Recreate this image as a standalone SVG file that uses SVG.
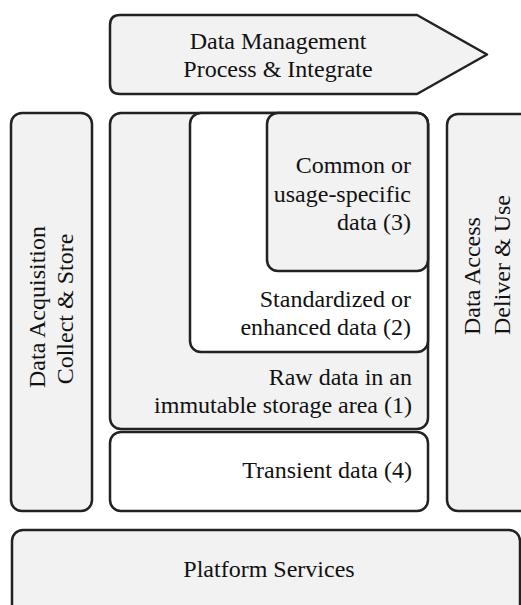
<svg xmlns="http://www.w3.org/2000/svg" width="521" height="605" viewBox="0 0 521 605">
<style>
.b{stroke:#222;stroke-width:2.5;stroke-linejoin:round}
.g{fill:#f2f2f2}
.w{fill:#fff}
.t{font-size:24px;fill:#111}
.r{text-anchor:end}
.m{text-anchor:middle}
</style>
<rect width="521" height="605" fill="#fff"/>
<g font-family="Liberation Serif, Times New Roman, Times, Tinos, Noto Serif, DejaVu Serif, FreeSerif, serif" class="t">
<g id="data-management">
<path class="b g" d="M120,15 H417 L487,54.5 L417,94 H120 Q110,94 110,84 V25 Q110,15 120,15 Z"/>
<text class="m" x="278" y="49">Data Management</text>
<text class="m" x="278" y="77">Process &amp; Integrate</text>
</g>
<g id="data-acquisition">
<rect class="b g" x="11" y="113" width="81" height="398" rx="11"/>
<text class="m" transform="translate(45,307) rotate(-90)">Data Acquisition</text>
<text class="m" transform="translate(73,309) rotate(-90)">Collect &amp; Store</text>
</g>
<g id="raw-data">
<rect class="b g" x="110" y="113" width="318" height="316" rx="11"/>
<text class="r" x="412" y="385">Raw data in an</text>
<text class="r" x="412" y="413">immutable storage area (1)</text>
</g>
<g id="standardized-data">
<rect class="b w" x="190" y="113" width="238" height="239" rx="11"/>
<text class="r" x="411" y="307">Standardized or</text>
<text class="r" x="411" y="335">enhanced data (2)</text>
</g>
<g id="common-data">
<rect class="b g" x="267" y="113" width="161" height="158" rx="11"/>
<text class="r" x="411" y="173">Common or</text>
<text class="r" x="411" y="202">usage-specific</text>
<text class="r" x="411" y="230">data (3)</text>
</g>
<g id="transient-data">
<rect class="b w" x="110" y="432" width="318" height="79" rx="11"/>
<text class="r" x="412" y="478">Transient data (4)</text>
</g>
<g id="data-access">
<rect class="b g" x="447" y="114" width="90" height="397" rx="11"/>
<text transform="translate(480,335) rotate(-90)">Data Access</text>
<text transform="translate(510,335) rotate(-90)">Deliver &amp; Use</text>
</g>
<g id="platform-services">
<rect class="b g" x="12" y="530" width="508" height="90" rx="11"/>
<text class="m" x="269" y="577">Platform Services</text>
</g>
</g>
<g id="connectors"></g>
</svg>
